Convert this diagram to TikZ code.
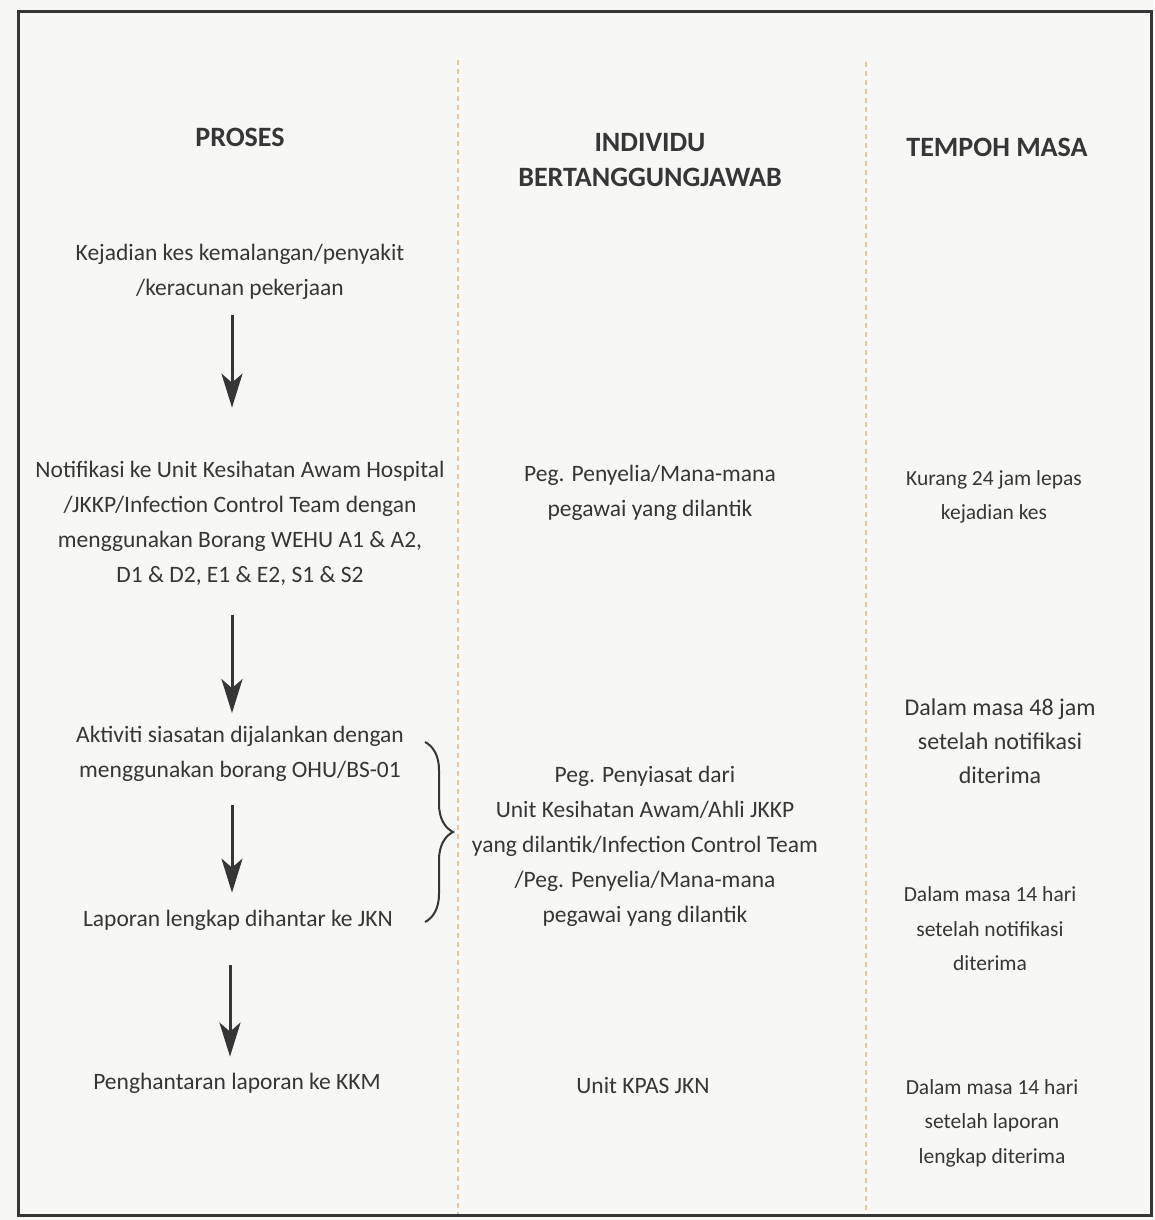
\documentclass[tikz,border=0pt]{standalone}
\usepackage{fontspec}
\setmainfont{Carlito}
\usetikzlibrary{arrows.meta,decorations.pathreplacing}

\definecolor{ink}{HTML}{363636}
\definecolor{paper}{HTML}{F7F7F5}
\definecolor{lane}{HTML}{E6C79C}

\tikzstyle{head}=[text=ink,align=center,inner sep=0pt,font=\fontsize{28}{35}\selectfont\bfseries]
\tikzstyle{txt}=[text=ink,align=center,inner sep=0pt,font=\fontsize{23.5}{35}\selectfont]
\tikzstyle{time}=[txt,font=\fontsize{21.5}{34.5}\selectfont]
\tikzstyle{flow}=[-{Stealth[length=34pt,width=21pt,inset=9pt]},line width=3pt,draw=ink]
\tikzstyle{lanerule}=[draw=lane,line width=1.6pt,dash pattern=on 5pt off 4pt]

\begin{document}
\begin{tikzpicture}[x=1pt,y=-1pt]
			\useasboundingbox (0,0) rectangle (1154,1220);
			\fill[paper] (0,0) rectangle (1154,1220);
			\draw[line width=3pt,draw=ink] (18,12) rectangle (1151,1215);
			\draw[lanerule] (458,60) -- (458,1214);
			\draw[lanerule] (866,62) -- (866,1214);

			% column titles
			\node (h1)[head] at (240,137) {PROSES};
			\node (h2)[head] at (650,160) {INDIVIDU\\BERTANGGUNGJAWAB};
			\node (h3)[head] at (997,147) {TEMPOH MASA};

			% proses
			\node (k)[txt] at (240,272) {Kejadian kes kemalangan/penyakit\\/keracunan pekerjaan};
			\node (n)[txt] at (240,523) {Notifikasi ke Unit Kesihatan Awam Hospital\\/JKKP/Infection Control Team dengan\\menggunakan Borang WEHU A1 \& A2,\\D1 \& D2, E1 \& E2, S1 \& S2};
			\node (a)[txt] at (240,754) {Aktiviti siasatan dijalankan dengan\\menggunakan borang OHU/BS-01};
			\node (l)[txt] at (238,920) {Laporan lengkap dihantar ke JKN};
			\node (p)[txt] at (237,1083) {Penghantaran laporan ke KKM};

			\foreach \from/\to/\s/\e in {k/n/15pt/53pt, n/a/30pt/13pt, a/l/23pt/17pt, l/p/35pt/16pt}{
				\draw[flow,shorten <=\s,shorten >=\e] ([xshift=-8pt]\from.south) -- ([xshift=-8pt]\from.south |- \to.north);
			}

			\coordinate (bt) at (425,742);
			\coordinate (bb) at (425,922);
			\draw[draw=ink,line width=2pt,decorate,decoration={brace,amplitude=28pt}] (bt) -- (bb);

			% individu bertanggungjawab
			\node (r1)[txt] at (650,493) {Peg. Penyelia/Mana-mana\\pegawai yang dilantik};
			\node (r2)[txt] at (645,846) {Peg. Penyiasat dari\\Unit Kesihatan Awam/Ahli JKKP\\yang dilantik/Infection Control Team\\/Peg. Penyelia/Mana-mana\\pegawai yang dilantik};
			\node (r3)[txt] at (643,1085) {Unit KPAS JKN};

			% tempoh masa
			\node (t1)[time] at (994,497) {Kurang 24 jam lepas\\kejadian kes};
			\node (t2)[time,font=\fontsize{24}{34}\selectfont] at (1000,741) {Dalam masa 48 jam\\setelah notifikasi\\diterima};
			\node (t3)[time] at (990,929) {Dalam masa 14 hari\\setelah notifikasi\\diterima};
			\node (t4)[time] at (992,1123) {Dalam masa 14 hari\\setelah laporan\\lengkap diterima};
		\end{tikzpicture}
\end{document}
